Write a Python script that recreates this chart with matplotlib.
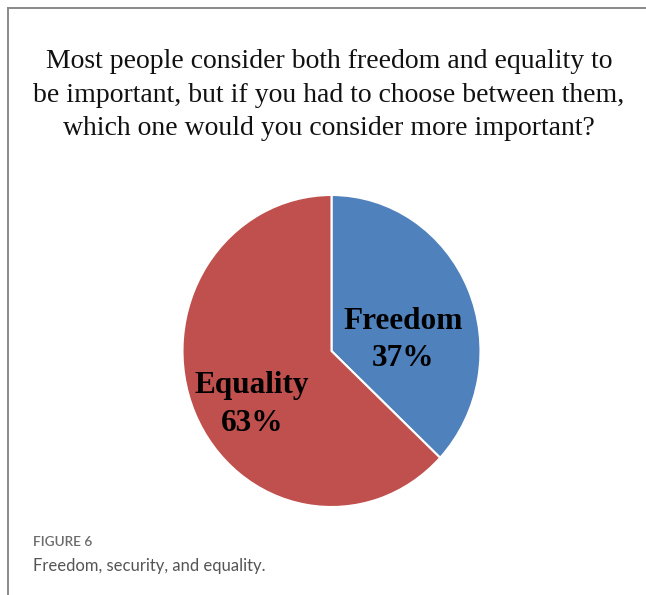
import matplotlib
matplotlib.use("Agg")
from matplotlib import pyplot as plt
from matplotlib.lines import Line2D

# Data
categories = ["Freedom", "Equality"]
shares = [37, 63]
colours = ["#4F81BD", "#C0504D"]

title = ("Most people consider both freedom and equality to\n"
         "be important, but if you had to choose between them,\n"
         "which one would you consider more important?")
fig_label = "FIGURE 6"
caption = "Freedom, security, and equality."

W, H = 646, 595
fig = plt.figure(figsize=(W / 100, H / 100), dpi=100)

# Frame lines round the chart (left and top only)
fig.add_artist(Line2D([8 / W, 8 / W], [0, 1 - 8 / H], color="#8a8a8a", lw=1.4,
                      transform=fig.transFigure))
fig.add_artist(Line2D([8 / W, 1], [1 - 8 / H, 1 - 8 / H], color="#8a8a8a", lw=1.4,
                      transform=fig.transFigure))

# Title
fig.text(329 / W, 1 - 95 / H, title, ha="center", va="center",
         fontsize=20, family="Liberation Serif", linespacing=1.445, color="#111111")

# Pie
cx, cy, rx, ry = 331.5, 351, 149, 156
ax = fig.add_axes([(cx - rx) / W, (H - cy - ry) / H, 2 * rx / W, 2 * ry / H])
wedges, _ = ax.pie(shares, colors=colours, startangle=90, counterclock=False,
                   wedgeprops=dict(edgecolor="white", linewidth=1.5))
ax.set_aspect("auto")
ax.set_xlim(-1, 1)
ax.set_ylim(-1, 1)
ax.axis("off")

# Slice labels
label_pos = [(0.48, 0.07), (-0.535, -0.343)]
for name, val, (lx, ly) in zip(categories, shares, label_pos):
    ax.text(lx, ly, f"{name}\n{val}%", ha="center", va="center",
            fontsize=22.5, fontweight="bold", family="Liberation Serif",
            linespacing=1.38, color="black")

# Caption
fig.text(33 / W, 1 - 542.5 / H, fig_label, ha="left", va="center",
         fontsize=9.8, family="Lato", fontweight="semibold", color="#6b6b6b")
fig.text(33 / W, 1 - 566 / H, caption, ha="left", va="center",
         fontsize=12, family="Lato", color="#555555")

fig.savefig("out.png", dpi=100)
